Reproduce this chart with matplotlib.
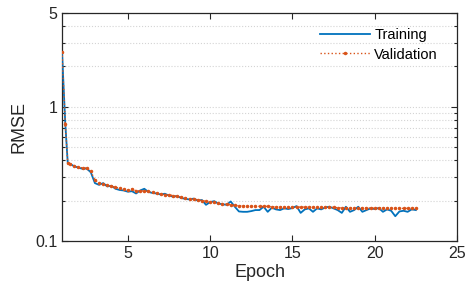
import numpy as np
import matplotlib
matplotlib.use("Agg")
import matplotlib.pyplot as plt
from matplotlib.ticker import FixedLocator, NullFormatter

plt.rcParams['font.family'] = ['Liberation Sans', 'DejaVu Sans']

epochs = [1.0, 1.2, 1.35] + [1.5 + 0.25 * i for i in range(85)]

training = [2.56, 0.75, 0.38,
            0.375, 0.36, 0.352, 0.345, 0.347, 0.325, 0.27, 0.262, 0.27, 0.255,
            0.258, 0.245, 0.240, 0.238, 0.233, 0.235, 0.226, 0.238, 0.245, 0.232,
            0.228, 0.226, 0.222, 0.225, 0.218, 0.214, 0.216, 0.209, 0.206, 0.204,
            0.207, 0.200, 0.202, 0.186, 0.195, 0.198, 0.190, 0.188, 0.186, 0.197,
            0.180, 0.166, 0.165, 0.165, 0.167, 0.170, 0.170, 0.180, 0.165, 0.177,
            0.172, 0.170, 0.175, 0.173, 0.176, 0.182, 0.162, 0.172, 0.175, 0.165,
            0.175, 0.172, 0.178, 0.180, 0.175, 0.170, 0.162, 0.180, 0.165, 0.170,
            0.180, 0.165, 0.170, 0.175, 0.173, 0.176, 0.165, 0.172, 0.168, 0.153,
            0.166, 0.168, 0.165, 0.172, 0.170]

validation = [2.56, 0.75, 0.38,
              0.372, 0.365, 0.356, 0.350, 0.350, 0.330, 0.285, 0.270, 0.265, 0.262,
              0.255, 0.252, 0.247, 0.244, 0.240, 0.243, 0.237, 0.236, 0.236, 0.234,
              0.230, 0.227, 0.224, 0.222, 0.221, 0.218, 0.215, 0.212, 0.210, 0.207,
              0.205, 0.203, 0.200, 0.198, 0.196, 0.194, 0.192, 0.190, 0.188, 0.186,
              0.184, 0.183, 0.183, 0.182, 0.182, 0.182, 0.181, 0.181, 0.181, 0.180,
              0.180, 0.180, 0.180, 0.180, 0.179, 0.179, 0.179, 0.179, 0.179, 0.178,
              0.178, 0.178, 0.178, 0.178, 0.178, 0.177, 0.177, 0.177, 0.177, 0.177,
              0.177, 0.177, 0.176, 0.176, 0.176, 0.176, 0.176, 0.176, 0.176, 0.175,
              0.175, 0.175, 0.175, 0.175, 0.175]

xticks = [5, 10, 15, 20, 25]
yticks = [0.1, 1, 5]
ytick_labels = ['0.1', '1', '5']
yminor = [0.2, 0.3, 0.4, 0.5, 0.6, 0.7, 0.8, 0.9, 2, 3, 4]

fig = plt.figure(figsize=(4.65, 2.95), dpi=100)
ax = fig.add_axes([62/465, 1 - 241/295, (457-62)/465, (241-13)/295])

ax.set_yscale('log')
ax.set_xlim(1, 25)
ax.set_ylim(0.1, 5)

for v in yticks[1:] + yminor:
    ax.axhline(v, color='#d4d4d4', lw=0.8, ls=':', zorder=0)

ax.plot(epochs, training, color='#0072BD', lw=1.3, label='Training', zorder=3)
ax.plot(epochs, validation, color='#D95319', lw=1.0, ls=':', marker='.',
        markersize=3, label='Validation', zorder=4)

ax.xaxis.set_major_locator(FixedLocator(xticks))
ax.set_xticklabels([str(t) for t in xticks])
ax.yaxis.set_major_locator(FixedLocator(yticks))
ax.set_yticklabels(ytick_labels)
ax.yaxis.set_minor_locator(FixedLocator(yminor))
ax.yaxis.set_minor_formatter(NullFormatter())
ax.xaxis.set_minor_locator(FixedLocator([]))

ax.tick_params(which='both', direction='in', top=True, right=True,
               colors='#262626', labelsize=11.5, width=0.8)
ax.tick_params(which='major', length=4)
ax.tick_params(which='minor', length=2.5)
for s in ax.spines.values():
    s.set_color('#262626')
    s.set_linewidth(0.9)

ax.set_xlabel('Epoch', fontsize=13, color='#262626', labelpad=2)
ax.set_ylabel('RMSE', fontsize=13, color='#262626', labelpad=5)

leg = ax.legend(loc='upper right', frameon=False, fontsize=10.5,
                handlelength=3.4, handletextpad=0.3, labelspacing=0.35,
                bbox_to_anchor=(0.985, 0.99))

fig.savefig('out.png', dpi=100)
